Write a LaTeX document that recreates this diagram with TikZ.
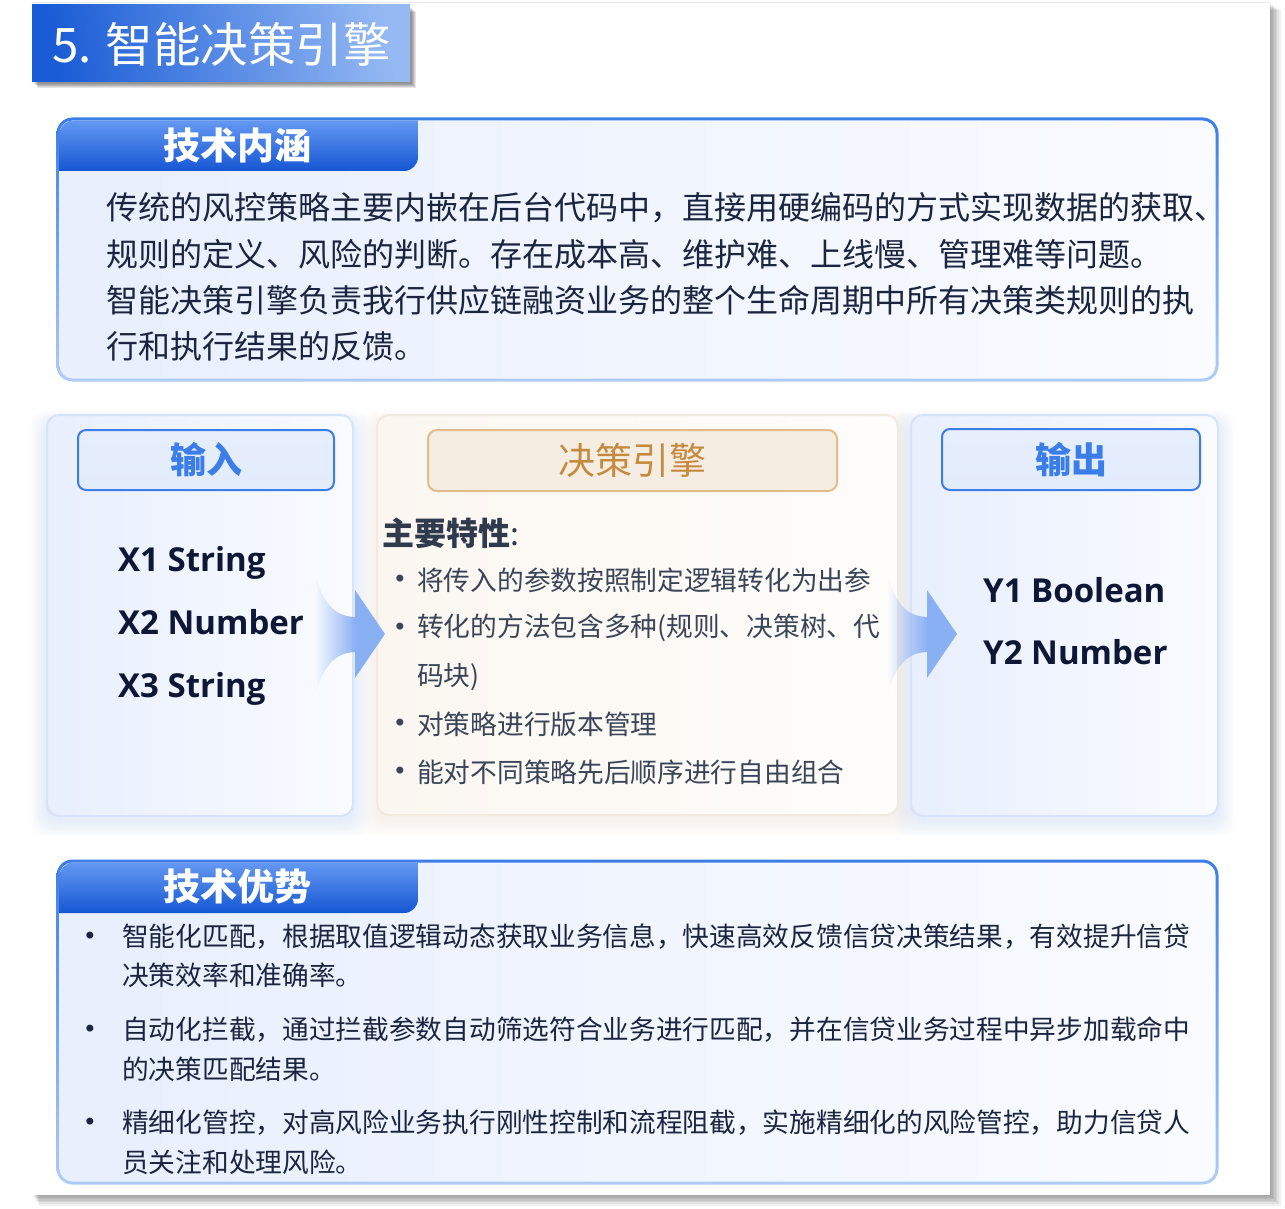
\documentclass[tikz,border=0pt]{standalone}
\usepackage{fontspec}
\setmainfont{Noto Sans CJK SC}
\newfontfamily\cjk{Noto Sans CJK SC}
\newfontfamily\lat{Open Sans}
\newfontfamily\dejavu{DejaVu Sans}
\usetikzlibrary{fadings}
\definecolor{bluemain}{HTML}{3B7DE9}
\definecolor{bluelight}{HTML}{B0CCF7}
\definecolor{navy}{HTML}{1B2540}
\definecolor{navyb}{HTML}{0E1836}
\definecolor{midtext}{HTML}{3A4558}
\definecolor{headtext}{HTML}{2F3A4D}
\definecolor{orangetext}{HTML}{C68A3E}
\definecolor{orangeline}{HTML}{E3BC8C}
\definecolor{orangefill}{HTML}{F6EDE2}
\definecolor{arrowblue}{HTML}{8AB0F4}
\definecolor{glowblue}{HTML}{C9DAFA}
\definecolor{glowwarm}{HTML}{EEE3D3}
\definecolor{HeadA}{HTML}{E6EEFC}
\definecolor{HeadB}{HTML}{E3ECFB}
\definecolor{PanA}{HTML}{E8EFFD}
\definecolor{PanB}{HTML}{F9FBFF}
\definecolor{WarmA}{HTML}{FBF6F0}
\definecolor{WarmB}{HTML}{FEFDFB}
\definecolor{TabA}{HTML}{6498F1}
\definecolor{TabB}{HTML}{1556D4}
\definecolor{BanA}{HTML}{1A5CD6}
\definecolor{BanB}{HTML}{95B9F3}
\definecolor{PanLine}{HTML}{D6E3FB}
\definecolor{WarmLine}{HTML}{F3EADF}
\tikzfading[name=fadeR, left color=transparent!100, right color=transparent!0]
\tikzset{
  para/.style={anchor=west, inner sep=0pt, text=navy, font=\cjk\fontsize{32}{40}\selectfont},
  small/.style={anchor=west, inner sep=0pt, text=navy, font=\cjk\fontsize{26.7}{32}\selectfont},
  feat/.style={anchor=west, inner sep=0pt, text=midtext, font=\cjk\fontsize{26.7}{32}\selectfont},
  dot/.style={anchor=center, inner sep=0pt, font=\dejavu\fontsize{24}{28}\selectfont},
  tabtext/.style={inner sep=0pt, text=white, font=\cjk\bfseries\fontsize{37}{40}\selectfont},
  item/.style={anchor=west, inner sep=0pt, text=navyb, font=\lat\bfseries\fontsize{33}{40}\selectfont},
  bluehead/.style={draw=bluemain, line width=2pt, top color=HeadA, bottom color=HeadB, rounded corners=8pt, inner sep=0pt, text=bluemain, font=\cjk\bfseries\fontsize{36}{40}\selectfont},
}
\begin{document}
\begin{tikzpicture}[x=1pt,y=-1pt]
\useasboundingbox (0,0) rectangle (1285,1209);
\fill[white] (0,0) rectangle (1285,1209);
% page with shadow
\foreach \k in {0,...,6}{
  \fill[black, opacity=0.06] (33+\k,4+\k) rectangle (1271+1.6*\k,1196+1.6*\k);
}
\fill[white] (32,2) rectangle (1270,1195);
\draw[black!8, line width=1pt] (32,2.5) -- (1270,2.5);

% title banner
\foreach \k in {0,...,4}{
  \fill[black, opacity=0.10] (34+\k,8+\k) rectangle (412+\k,84+\k);
}
\shade[left color=BanA, right color=BanB, shading angle=100] (32,5) rectangle (410,82);
\node[anchor=west, inner sep=0pt, text=white, font=\cjk\fontsize{47.5}{50}\selectfont] (title) at (52,44) {5. 智能决策引擎};

% ---------- box 1 ----------
\shade[top color=bluemain, bottom color=bluelight, rounded corners=16pt] (56.5,117.5) rectangle (1218.5,381.5);
\shade[left color=PanA, right color=PanB, rounded corners=13pt] (59.5,120.5) rectangle (1215.5,378.5);
\shade[top color=TabA, bottom color=TabB] (59.5,171) -- (59.5,134.5) arc[start angle=180, end angle=270, radius=14] -- (418,120.5) -- (418,157) arc[start angle=0, end angle=90, radius=14] -- cycle;
\node[tabtext] (tab1) at (237,145) {技术内涵};
\node[para] (p1) at (106,208) {传统的风控策略主要内嵌在后台代码中，直接用硬编码的方式实现数据的获取、};
\node[para] (p2) at (106,254) {规则的定义、风险的判断。存在成本高、维护难、上线慢、管理难等问题。};
\node[para] (p3) at (106,300) {智能决策引擎负责我行供应链融资业务的整个生命周期中所有决策类规则的执};
\node[para] (p4) at (106,346) {行和执行结果的反馈。};

% ---------- panels glow ----------
\foreach \k in {1,...,8}{
  \fill[glowblue, opacity=0.06, rounded corners=14pt] (47-2*\k,415-1.5*\k+8) rectangle (353+2*\k,816+2*\k+4);
  \fill[glowblue, opacity=0.06, rounded corners=14pt] (911-2*\k,415-1.5*\k+8) rectangle (1218+2*\k,816+2*\k+4);
  \fill[glowwarm, opacity=0.05, rounded corners=14pt] (377-2*\k,415-1.5*\k+8) rectangle (898+2*\k,815+2*\k+4);
}
% left panel
\shade[left color=PanA, right color=PanB, rounded corners=12pt, draw=PanLine, line width=2pt] (47,415) rectangle (353,816);
\node[bluehead, minimum width=256pt, minimum height=60pt] (inhead) at (206,460) {输入};
\node[item] (x1) at (118,563) {X1 String};
\node[item] (x2) at (118,622) {X2 Number};
\node[item] (x3) at (118,689) {X3 String};

% middle panel
\shade[left color=WarmA, right color=WarmB, rounded corners=12pt, draw=WarmLine, line width=2pt] (377,415) rectangle (898,815);
\node[draw=orangeline, line width=2pt, fill=orangefill, rounded corners=9pt, minimum width=409pt, minimum height=61pt, inner sep=0pt, text=orangetext, font=\cjk\fontsize{37}{40}\selectfont] (enghead) at (632.5,460.5) {决策引擎};
\node[anchor=west, inner sep=0pt, text=headtext, font=\cjk\bfseries\fontsize{32}{36}\selectfont] (feat) at (382,533) {主要特性\textmd{:}};
\node[dot, text=midtext] (b1) at (400,581) {•};
\node[feat] (f1) at (417,580) {将传入的参数按照制定逻辑转化为出参};
\node[dot, text=midtext] (b2) at (400,629) {•};
\node[feat] (f2) at (417,628) {转化的方法包含多种(规则、决策树、代};
\node[feat] (f2b) at (417,677) {码块)};
\node[dot, text=midtext] (b3) at (400,725) {•};
\node[feat] (f3) at (417,724) {对策略进行版本管理};
\node[dot, text=midtext] (b4) at (400,773) {•};
\node[feat] (f4) at (417,772) {能对不同策略先后顺序进行自由组合};

% right panel
\shade[left color=PanA, right color=PanB, rounded corners=12pt, draw=PanLine, line width=2pt] (911,415) rectangle (1218,816);
\node[bluehead, minimum width=258pt, minimum height=61pt] (outhead) at (1071,459.5) {输出};
\node[item] (y1) at (983,590) {Y1 Boolean};
\node[item] (y2) at (983,652) {Y2 Number};

% arrows
\fill[arrowblue, path fading=fadeR] (315,573) .. controls (322,603) and (335,617) .. (356,617) -- (356,652) .. controls (335,652) and (322,667) .. (315,697) -- cycle;
\fill[arrowblue] (355,590) -- (385,634) -- (355,678) -- cycle;
\fill[arrowblue, path fading=fadeR] (887,571) .. controls (894,603) and (907,617) .. (928,617) -- (928,652) .. controls (907,652) and (894,667) .. (887,697) -- cycle;
\fill[arrowblue] (927,590) -- (957,634) -- (927,678) -- cycle;

% ---------- box 2 ----------
\shade[top color=bluemain, bottom color=bluelight, rounded corners=16pt] (56.5,859.5) rectangle (1218.5,1184.5);
\shade[left color=PanA, right color=PanB, rounded corners=13pt] (59.5,862.5) rectangle (1215.5,1181.5);
\shade[top color=TabA, bottom color=TabB] (59.5,913) -- (59.5,876.5) arc[start angle=180, end angle=270, radius=14] -- (418,862.5) -- (418,899) arc[start angle=0, end angle=90, radius=14] -- cycle;
\node[tabtext] (tab2) at (237,887) {技术优势};
\node[dot, text=navy] (c1) at (90,938) {•};
\node[small] (q1) at (122,937) {智能化匹配，根据取值逻辑动态获取业务信息，快速高效反馈信贷决策结果，有效提升信贷};
\node[small] (q1b) at (122,975) {决策效率和准确率。};
\node[dot, text=navy] (c2) at (90,1031) {•};
\node[small] (q2) at (122,1030) {自动化拦截，通过拦截参数自动筛选符合业务进行匹配，并在信贷业务过程中异步加载命中};
\node[small] (q2b) at (122,1069) {的决策匹配结果。};
\node[dot, text=navy] (c3) at (90,1124) {•};
\node[small] (q3) at (122,1123) {精细化管控，对高风险业务执行刚性控制和流程阻截，实施精细化的风险管控，助力信贷人};
\node[small] (q3b) at (122,1162) {员关注和处理风险。};
\end{tikzpicture}
\end{document}
